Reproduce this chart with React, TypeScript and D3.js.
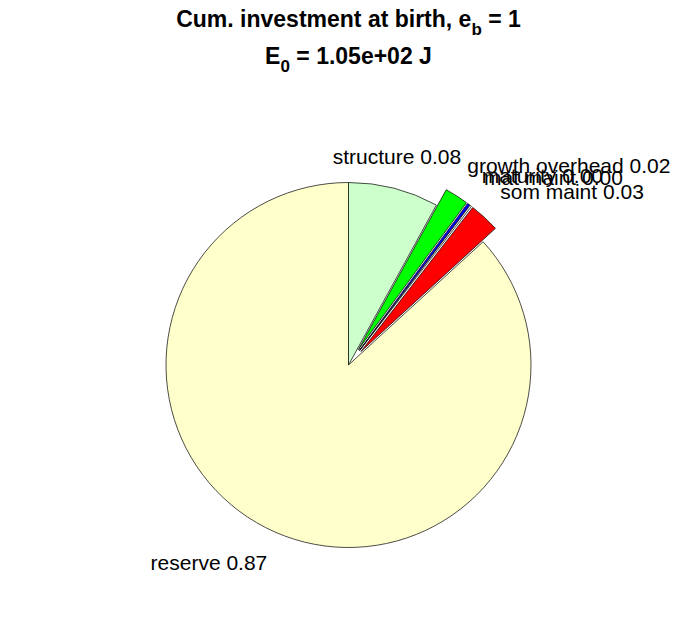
import * as d3 from 'd3';
import React, { useEffect, useRef } from 'react';

// slice names and fractions, clockwise from 12 o'clock
const names = ['structure', 'growth overhead', 'maturity', 'mat maint', 'som maint', 'reserve'];
const fractions = [0.08, 0.021, 0.0025, 0.0015, 0.027, 0.868];
const colors = ['#ccffcc', '#00ff00', '#0000ff', '#f4f4f4', '#ff0000', '#ffffcc'];
const exploded = [false, true, true, true, true, false];

const W = 696;
const H = 618;

export default function App() {
  const ref = useRef<SVGSVGElement>(null);

  useEffect(() => {
    const svg = d3.select(ref.current);
    svg.selectAll('*').remove();

    const cx = 348.5;
    const cy = 365;
    const R = 182.5;
    const font = 'Liberation Sans, Arial, Helvetica, sans-serif';

    // title, two lines with subscripts
    const title = svg.append('g').attr('font-family', font).attr('font-weight', 'bold').attr('fill', '#000');
    const t1 = title.append('text').attr('x', cx).attr('y', 27).attr('text-anchor', 'middle').attr('font-size', 23);
    t1.append('tspan').text('Cum. investment at birth, e');
    t1.append('tspan').attr('dy', 8).attr('font-size', 17).text('b');
    t1.append('tspan').attr('dy', -8).text(' = 1');
    const t2 = title.append('text').attr('x', cx).attr('y', 64).attr('text-anchor', 'middle').attr('font-size', 23);
    t2.append('tspan').text('E');
    t2.append('tspan').attr('dy', 8).attr('font-size', 17).text('0');
    t2.append('tspan').attr('dy', -8).text(' = 1.05e+02 J');

    const pie = d3.pie<number>().sort(null).value((d) => d).startAngle(0);
    const arcs = pie(fractions);
    const arc = d3.arc<d3.PieArcDatum<number>>().innerRadius(0).outerRadius(R);

    const g = svg.append('g').attr('transform', `translate(${cx},${cy})`);
    const fmt = d3.format('.2f');

    arcs.forEach((a, i) => {
      const mid = (a.startAngle + a.endAngle) / 2;
      const off = exploded[i] ? 0.1 * R : 0;
      const ox = Math.sin(mid) * off;
      const oy = -Math.cos(mid) * off;
      g.append('path')
        .attr('d', arc(a) as string)
        .attr('transform', `translate(${ox},${oy})`)
        .attr('fill', colors[i])
        .attr('stroke', '#000')
        .attr('stroke-width', 0.7)
        .attr('stroke-linejoin', 'round');
    });

    arcs.forEach((a, i) => {
      const mid = (a.startAngle + a.endAngle) / 2;
      const rr = 1.2 * R + (exploded[i] ? 0.1 * R : 0);
      const s = Math.sin(mid);
      const lx = s * rr;
      const ly = -Math.cos(mid) * rr;
      const anchor = Math.abs(s) < 0.3 ? 'middle' : s > 0 ? 'start' : 'end';
      const nudge = anchor === 'start' ? -9 : anchor === 'end' ? 7 : -6;
      const lift = anchor === 'middle' ? 4 : anchor === 'end' ? -3 : 1;
      g.append('text')
        .attr('x', lx + nudge)
        .attr('y', ly + lift)
        .attr('dy', '0.35em')
        .attr('text-anchor', anchor)
        .attr('font-family', font)
        .attr('font-size', 21)
        .attr('fill', '#000')
        .text(`${names[i]} ${fmt(fractions[i])}`);
    });
  }, []);

  return (
    <svg
      ref={ref}
      width={W}
      height={H}
      style={{ position: 'absolute', left: 0, top: 0, background: '#fff' }}
    ></svg>
  );
}
